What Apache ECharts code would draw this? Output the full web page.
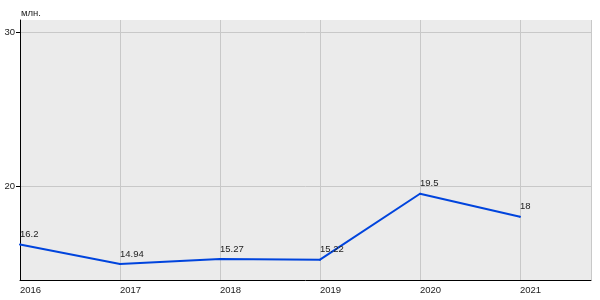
<!DOCTYPE html>
<html>
<head>
<meta charset="utf-8">
<script src="https://cdn.jsdelivr.net/npm/echarts@6/dist/echarts.min.js"></script>
<style>html,body{margin:0;padding:0;background:#fff}#c{width:600px;height:300px}</style>
</head>
<body>
<div id="c"></div>
<script>
const years = [2016, 2017, 2018, 2019, 2020, 2021];
const values = [16.2, 14.94, 15.27, 15.22, 19.5, 18];
const yTicks = [20, 30];
const unitLabel = 'млн.';

const font = 'Liberation Sans, Arial, sans-serif';
const chart = echarts.init(document.getElementById('c'), null, {renderer: 'canvas'});
chart.setOption({
  animation: false,
  title: {
    text: unitLabel, left: 16, top: 3,
    textStyle: {fontFamily: font, fontSize: 9.5, fontWeight: 'normal', color: '#222'}
  },
  grid: {
    left: 20, right: 9, top: 20, bottom: 20,
    show: true, backgroundColor: '#ebebeb', borderWidth: 0
  },
  xAxis: {
    type: 'value', min: 2016, max: 2021.71,
    axisLine: {show: true, lineStyle: {color: '#000', width: 1}},
    axisTick: {show: false},
    splitLine: {show: true, lineStyle: {color: '#c8c8c8', width: 1}},
    axisLabel: {
      customValues: years,
      formatter: v => String(v),
      align: 'left', margin: 5,
      fontFamily: font, fontSize: 9.5, color: '#222'
    }
  },
  yAxis: {
    type: 'value', min: 13.9, max: 30.78,
    axisLine: {show: true, lineStyle: {color: '#000', width: 1}},
    axisTick: {show: true, customValues: yTicks, length: 4, lineStyle: {color: '#000'}},
    splitLine: {show: true, lineStyle: {color: '#c8c8c8', width: 1}},
    axisLabel: {
      customValues: yTicks,
      margin: 5,
      fontFamily: font, fontSize: 9.5, color: '#222'
    }
  },
  series: [{
    type: 'line',
    data: years.map((y, i) => [y, values[i]]),
    symbol: 'circle', symbolSize: 2,
    itemStyle: {color: '#0044dd'},
    lineStyle: {color: '#0044dd', width: 2},
    label: {
      show: true, position: [1, 1], align: 'left', verticalAlign: 'bottom',
      offset: [0, -5],
      fontFamily: font, fontSize: 9.5, color: '#222'
    }
  }]
});
</script>
</body>
</html>
